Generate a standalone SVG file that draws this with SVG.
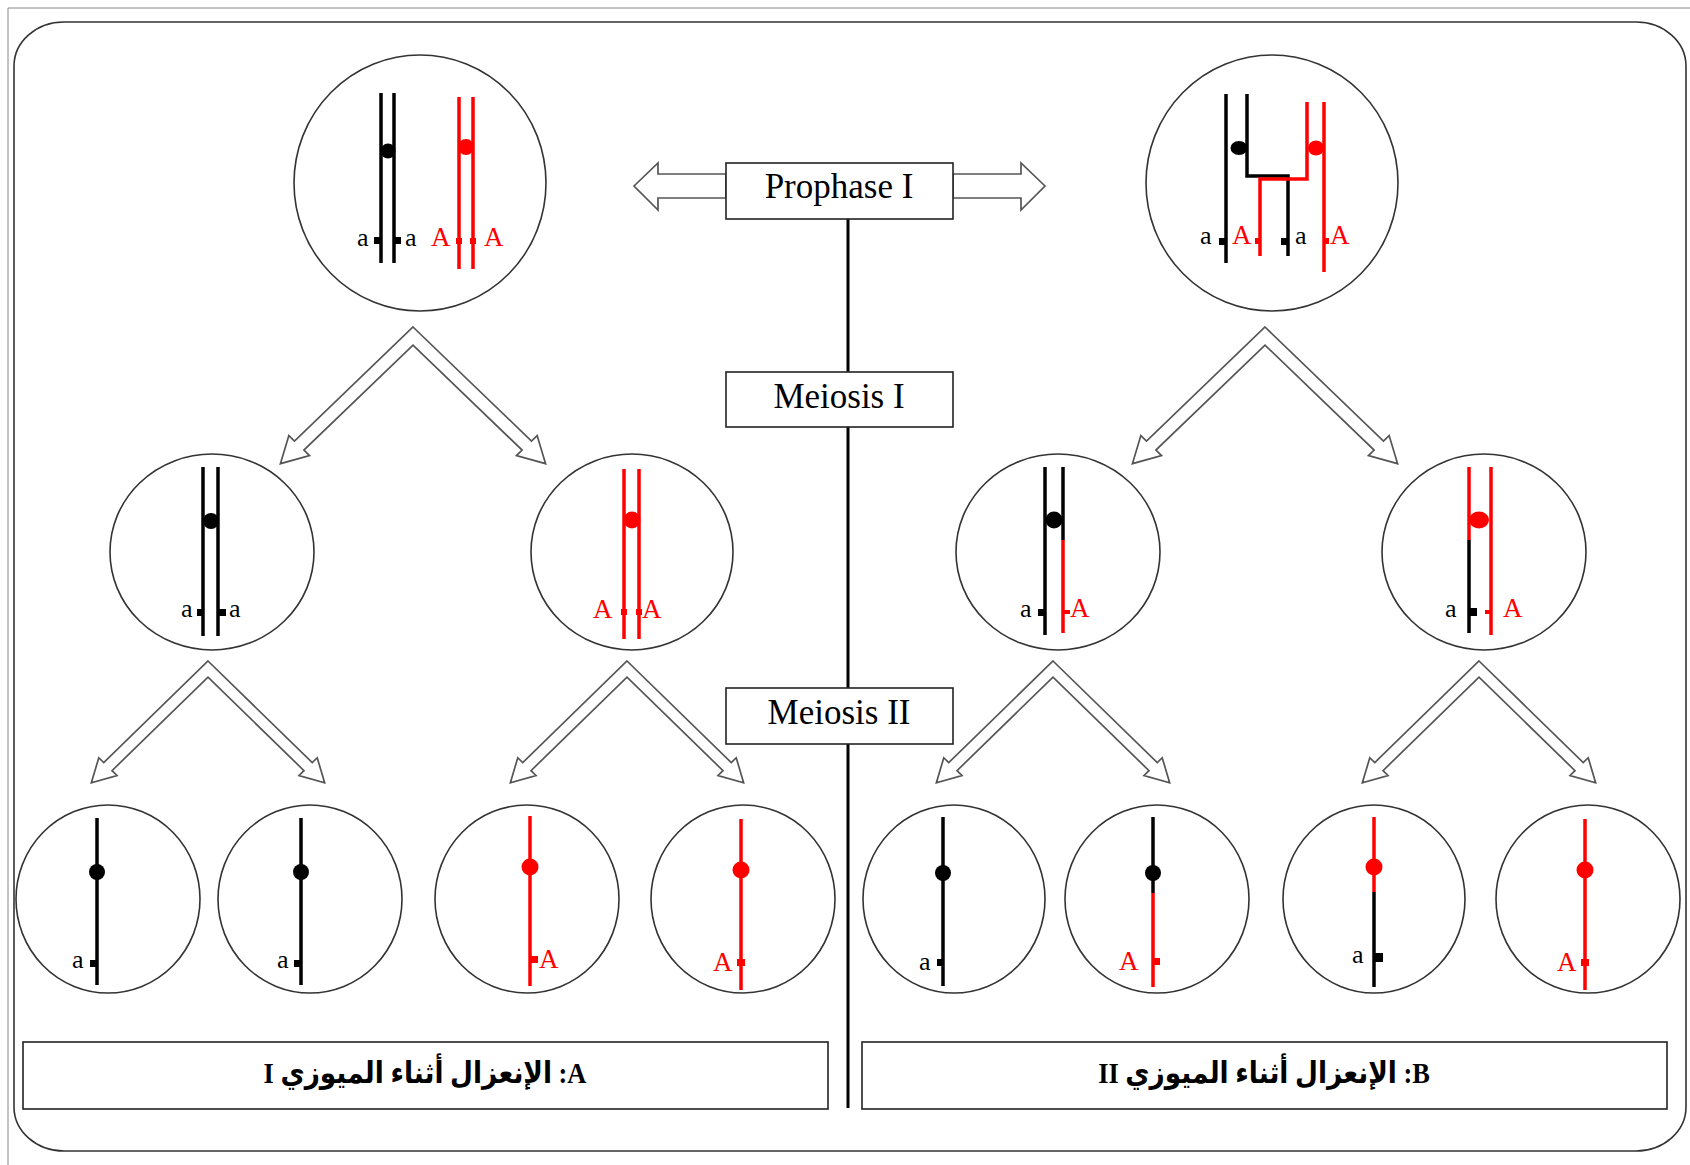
<svg xmlns="http://www.w3.org/2000/svg" xmlns:xlink="http://www.w3.org/1999/xlink" width="1690" height="1165" viewBox="0 0 1690 1165">
  <style>
    .cell { fill: #fff; stroke: #333; stroke-width: 1.6; }
    .box { fill: #fff; stroke: #222; stroke-width: 1.6; }
    .bk { stroke: #000; stroke-width: 3.5; fill: none; }
    .rd { stroke: #f00; stroke-width: 3.5; fill: none; }
    .ck { fill: #000; }
    .cr { fill: #f00; }
    .ga { font-family: 'Liberation Serif', serif; font-size: 26px; fill: #000; }
    .gA { font-family: 'Liberation Serif', serif; font-size: 27px; fill: #f00; }
    .lbl { font-family: 'Liberation Serif', serif; font-size: 35px; fill: #000; text-anchor: middle; }
    .ar { font-family: 'Liberation Serif', 'DejaVu Sans', sans-serif; font-size: 30px; font-weight: bold; fill: #000; text-anchor: middle; }
    .arrow { fill: #fff; stroke: #555; stroke-width: 1.7; }
  </style>
  <defs>
    <!-- hollow two-way chevron arrow, apex at origin -->
    <path id="chev" class="arrow" vector-effect="non-scaling-stroke"
          d="M0,0 L89.1,89.1 L93.34,84.85 L99.7,106.77 L77.78,100.41 L82.03,96.17 L0,14.14 L-82.03,96.17 L-77.78,100.41 L-99.7,106.77 L-93.34,84.85 L-89.1,89.1 Z"/>
  </defs>

  <rect width="1690" height="1165" fill="#fff"/>
  <!-- page frame -->
  <path d="M8,8 H1690 M8,8 V1165" stroke="#888" stroke-width="1" fill="none"/>
  <rect x="14" y="22" width="1672" height="1129" rx="50" ry="44" fill="none" stroke="#333" stroke-width="1.6"/>

  <!-- connectors -->
  <g id="connectors">
    <line x1="848" y1="219" x2="848" y2="1108" stroke="#000" stroke-width="3"/>
    <polygon class="arrow" points="634,186 658,163 658,174 726,174 726,198 658,198 658,210"/>
    <polygon class="arrow" points="1045,186 1021,163 1021,174 953,174 953,198 1021,198 1021,210"/>
    <use xlink:href="#chev" transform="translate(413,327) scale(1.33,1.28)"/>
    <use xlink:href="#chev" transform="translate(1265,327) scale(1.33,1.28)"/>
    <use xlink:href="#chev" transform="translate(208,661) scale(1.17,1.14)"/>
    <use xlink:href="#chev" transform="translate(627,661) scale(1.17,1.14)"/>
    <use xlink:href="#chev" transform="translate(1053,661) scale(1.17,1.14)"/>
    <use xlink:href="#chev" transform="translate(1479,661) scale(1.17,1.14)"/>
  </g>

  <!-- stage labels -->
  <g id="label-prophase">
    <rect class="box" x="726" y="163" width="227" height="56"/>
    <text class="lbl" x="839" y="198">Prophase I</text>
  </g>
  <g id="label-meiosis1">
    <rect class="box" x="726" y="372" width="227" height="55"/>
    <text class="lbl" x="839" y="408">Meiosis I</text>
  </g>
  <g id="label-meiosis2">
    <rect class="box" x="726" y="688" width="227" height="56"/>
    <text class="lbl" x="839" y="724">Meiosis II</text>
  </g>

  <!-- A: parent cell, no crossing over -->
  <g id="cell-A0">
    <ellipse class="cell" cx="420" cy="183" rx="126" ry="128"/>
    <line class="bk" x1="381" y1="93" x2="381" y2="263"/>
    <line class="bk" x1="394" y1="93" x2="394" y2="263"/>
    <circle class="ck" cx="388" cy="151" r="7.5"/>
    <line class="rd" x1="459" y1="97" x2="459" y2="269"/>
    <line class="rd" x1="473" y1="97" x2="473" y2="269"/>
    <circle class="cr" cx="466" cy="147" r="8"/>
    <rect class="ck" x="374" y="237" width="7" height="7"/>
    <rect class="ck" x="394" y="237" width="7" height="7"/>
    <rect class="cr" x="456" y="238" width="6" height="6"/>
    <rect class="cr" x="470" y="238" width="6" height="6"/>
    <text class="ga" x="357" y="246">a</text>
    <text class="ga" x="405" y="246">a</text>
    <text class="gA" x="431" y="246">A</text>
    <text class="gA" x="484" y="246">A</text>
  </g>

  <!-- B: parent cell, crossing over -->
  <g id="cell-B0">
    <ellipse class="cell" cx="1272" cy="183" rx="126" ry="128"/>
    <line class="bk" x1="1226" y1="94" x2="1226" y2="263"/>
    <path class="bk" d="M1247,94 V176 H1288 V256"/>
    <path class="rd" d="M1307,102 V179 H1260 V256"/>
    <line class="rd" x1="1324" y1="102" x2="1324" y2="272"/>
    <ellipse class="ck" cx="1239" cy="148" rx="8.5" ry="7"/>
    <ellipse class="cr" cx="1316" cy="148" rx="8" ry="7.5"/>
    <rect class="ck" x="1219" y="238" width="7" height="7"/>
    <rect class="cr" x="1255" y="238" width="5" height="6"/>
    <rect class="ck" x="1281" y="238" width="7" height="7"/>
    <rect class="cr" x="1324" y="238" width="5" height="6"/>
    <text class="ga" x="1200" y="244">a</text>
    <text class="gA" x="1232" y="244">A</text>
    <text class="ga" x="1295" y="244">a</text>
    <text class="gA" x="1330" y="244">A</text>
  </g>

  <!-- A: after meiosis I -->
  <g id="cell-A1">
    <ellipse class="cell" cx="212" cy="552" rx="102" ry="98"/>
    <line class="bk" x1="203" y1="467" x2="203" y2="636"/>
    <line class="bk" x1="218" y1="467" x2="218" y2="636"/>
    <circle class="ck" cx="211" cy="521" r="8"/>
    <rect class="ck" x="197" y="609" width="6" height="7"/>
    <rect class="ck" x="218" y="609" width="8" height="7"/>
    <text class="ga" x="181" y="617">a</text>
    <text class="ga" x="229" y="617">a</text>
  </g>
  <g id="cell-A2">
    <ellipse class="cell" cx="632" cy="552" rx="101" ry="98"/>
    <line class="rd" x1="624" y1="469" x2="624" y2="639"/>
    <line class="rd" x1="639" y1="469" x2="639" y2="639"/>
    <circle class="cr" cx="632" cy="520" r="8.5"/>
    <rect class="cr" x="621" y="609" width="6" height="6"/>
    <rect class="cr" x="636" y="609" width="6" height="6"/>
    <text class="gA" x="593" y="618">A</text>
    <text class="gA" x="642" y="618">A</text>
  </g>

  <!-- B: after meiosis I -->
  <g id="cell-B1">
    <ellipse class="cell" cx="1058" cy="552" rx="102" ry="98"/>
    <line class="bk" x1="1045" y1="467" x2="1045" y2="635"/>
    <line class="bk" x1="1063" y1="467" x2="1063" y2="540"/>
    <line class="rd" x1="1063" y1="540" x2="1063" y2="633"/>
    <circle class="ck" cx="1054" cy="520" r="8.5"/>
    <rect class="ck" x="1038" y="609" width="7" height="7"/>
    <rect class="cr" x="1063" y="610" width="7" height="4"/>
    <text class="ga" x="1020" y="617">a</text>
    <text class="gA" x="1070" y="617">A</text>
  </g>
  <g id="cell-B2">
    <ellipse class="cell" cx="1484" cy="552" rx="102" ry="98"/>
    <line class="rd" x1="1469" y1="467" x2="1469" y2="540"/>
    <line class="bk" x1="1469" y1="540" x2="1469" y2="633"/>
    <line class="rd" x1="1491" y1="467" x2="1491" y2="635"/>
    <ellipse class="cr" cx="1479" cy="520" rx="10" ry="8.5"/>
    <rect class="ck" x="1469" y="608" width="8" height="8"/>
    <rect class="cr" x="1485" y="610" width="6" height="4"/>
    <text class="ga" x="1445" y="617">a</text>
    <text class="gA" x="1503" y="617">A</text>
  </g>

  <!-- A: gametes -->
  <g id="cell-A11">
    <ellipse class="cell" cx="108" cy="899" rx="92" ry="94"/>
    <line class="bk" x1="97" y1="818" x2="97" y2="985"/>
    <circle class="ck" cx="97" cy="872" r="8"/>
    <rect class="ck" x="90" y="960" width="7" height="7"/>
    <text class="ga" x="72" y="968">a</text>
  </g>
  <g id="cell-A12">
    <ellipse class="cell" cx="310" cy="899" rx="92" ry="94"/>
    <line class="bk" x1="301" y1="818" x2="301" y2="985"/>
    <circle class="ck" cx="301" cy="872" r="8"/>
    <rect class="ck" x="294" y="960" width="7" height="7"/>
    <text class="ga" x="277" y="968">a</text>
  </g>
  <g id="cell-A21">
    <ellipse class="cell" cx="527" cy="899" rx="92" ry="94"/>
    <line class="rd" x1="530" y1="816" x2="530" y2="986"/>
    <circle class="cr" cx="530" cy="867" r="8.5"/>
    <rect class="cr" x="530" y="956" width="8" height="7"/>
    <text class="gA" x="539" y="968">A</text>
  </g>
  <g id="cell-A22">
    <ellipse class="cell" cx="743" cy="899" rx="92" ry="94"/>
    <line class="rd" x1="741" y1="819" x2="741" y2="990"/>
    <circle class="cr" cx="741" cy="870" r="8.5"/>
    <rect class="cr" x="737" y="959" width="8" height="7"/>
    <text class="gA" x="713" y="971">A</text>
  </g>

  <!-- B: gametes -->
  <g id="cell-B11">
    <ellipse class="cell" cx="954" cy="899" rx="91" ry="94"/>
    <line class="bk" x1="943" y1="817" x2="943" y2="986"/>
    <circle class="ck" cx="943" cy="873" r="8"/>
    <rect class="ck" x="937" y="959" width="6" height="7"/>
    <text class="ga" x="919" y="970">a</text>
  </g>
  <g id="cell-B12">
    <ellipse class="cell" cx="1157" cy="899" rx="92" ry="94"/>
    <line class="bk" x1="1153" y1="817" x2="1153" y2="893"/>
    <line class="rd" x1="1153" y1="893" x2="1153" y2="987"/>
    <circle class="ck" cx="1153" cy="873" r="8"/>
    <rect class="cr" x="1153" y="958" width="7" height="7"/>
    <text class="gA" x="1119" y="970">A</text>
  </g>
  <g id="cell-B21">
    <ellipse class="cell" cx="1374" cy="899" rx="91" ry="94"/>
    <line class="rd" x1="1374" y1="817" x2="1374" y2="892"/>
    <line class="bk" x1="1374" y1="892" x2="1374" y2="987"/>
    <circle class="cr" cx="1374" cy="867" r="8.5"/>
    <rect class="ck" x="1374" y="953" width="9" height="9"/>
    <text class="ga" x="1352" y="963">a</text>
  </g>
  <g id="cell-B22">
    <ellipse class="cell" cx="1588" cy="899" rx="92" ry="94"/>
    <line class="rd" x1="1585" y1="819" x2="1585" y2="990"/>
    <circle class="cr" cx="1585" cy="870" r="8.5"/>
    <rect class="cr" x="1581" y="959" width="8" height="7"/>
    <text class="gA" x="1557" y="971">A</text>
  </g>

  <!-- captions -->
  <g id="caption-A">
    <rect class="box" x="23" y="1042" width="805" height="67" stroke-width="2.2"/>
    <text class="ar" transform="translate(425,1083) scale(0.88,1)" direction="rtl">A: الإنعزال أثناء الميوزي I</text>
  </g>
  <g id="caption-B">
    <rect class="box" x="862" y="1042" width="805" height="67" stroke-width="2.2"/>
    <text class="ar" transform="translate(1264,1083) scale(0.88,1)" direction="rtl">B: الإنعزال أثناء الميوزي II</text>
  </g>
</svg>
